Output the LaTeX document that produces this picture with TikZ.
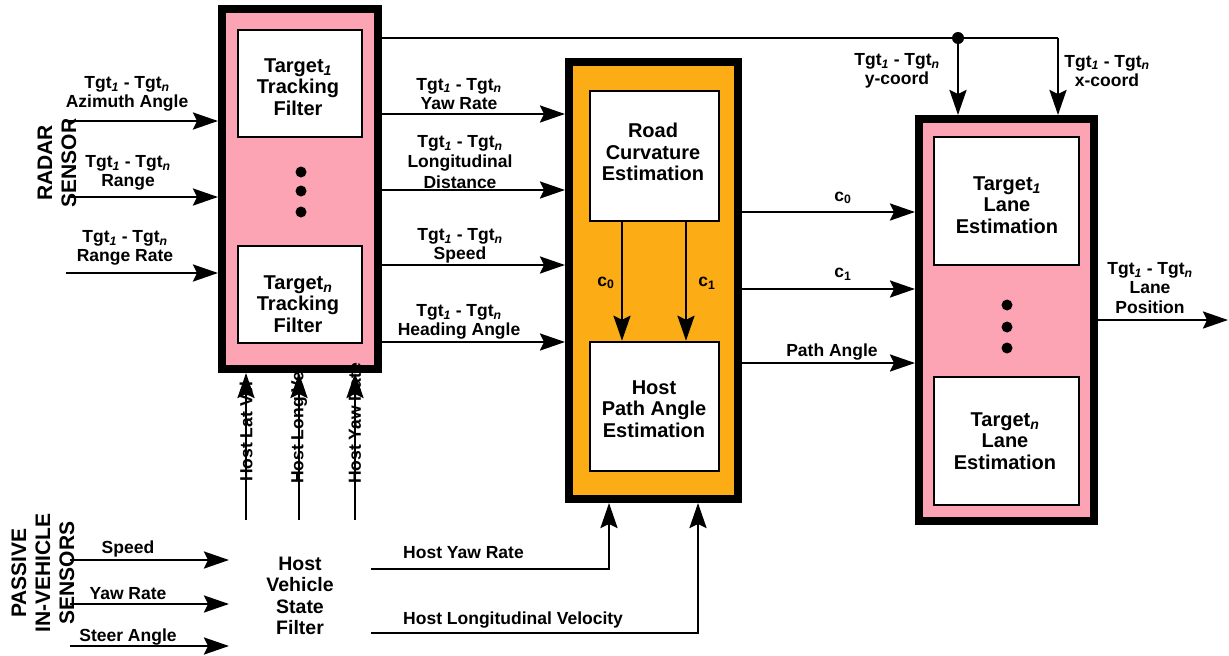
\documentclass[tikz,border=0pt]{standalone}
\usepackage{fontspec}
\setmainfont{Liberation Sans}
\usetikzlibrary{arrows.meta}
\definecolor{pinkf}{RGB}{252,163,180}
\definecolor{orangef}{RGB}{252,172,20}
\newcommand\isub[1]{\textsubscript{\itshape #1}}
\newcommand\tgtn{Tgt\isub{1} - Tgt\isub{n}}
\begin{document}
\begin{tikzpicture}[x=1pt,y=-1pt,
  arr/.style={line width=2.5pt,-{Stealth[length=25pt,width=17pt,inset=4pt]}},
  ln/.style={line width=2.5pt},
  outerbox/.style={draw=black,line width=8pt,inner sep=0pt},
  innerbox/.style={draw=black,fill=white,line width=2.5pt,inner sep=0pt},
  lbl/.style={font=\fontsize{17.5}{19.5}\selectfont\bfseries,align=center,inner sep=0pt},
  btxt/.style={font=\fontsize{20}{21.5}\selectfont\bfseries,align=center,inner sep=0pt},
  ttl/.style={font=\fontsize{21}{24}\selectfont\bfseries,align=center,rotate=90,inner sep=0pt},
  dotf/.style={fill=black}]
\useasboundingbox (0,0) rectangle (1229,656);

% outer boxes
\node[outerbox,fill=pinkf,minimum width=156pt,minimum height=360pt] (trk) at (300,189) {};
\node[outerbox,fill=orangef,minimum width=169pt,minimum height=437pt] (orng) at (653.5,280.5) {};
\node[outerbox,fill=pinkf,minimum width=175pt,minimum height=402pt] (lane) at (1006.5,320) {};

% inner boxes
\node[innerbox,minimum width=124pt,minimum height=107pt] (t1trk) at (300,83.5) {};
\node[innerbox,minimum width=124pt,minimum height=97pt] (tntrk) at (300,294.5) {};
\node[innerbox,minimum width=129pt,minimum height=130pt] (road) at (654.5,156) {};
\node[innerbox,minimum width=129pt,minimum height=129pt] (hpath) at (654.5,406.5) {};
\node[innerbox,minimum width=145pt,minimum height=128pt] (t1lane) at (1006.5,201) {};
\node[innerbox,minimum width=145pt,minimum height=128pt] (tnlane) at (1006.5,441) {};

% box texts
\node[btxt] (t1trkT) at (298,87) {Target\isub{1}\\Tracking\\Filter};
\node[btxt] (tntrkT) at (298,304) {Target\isub{n}\\Tracking\\Filter};
\node[btxt] (roadT) at (653,152) {Road\\Curvature\\Estimation};
\node[btxt] (hpathT) at (654,409) {Host\\Path Angle\\Estimation};
\node[btxt] (t1laneT) at (1007,205) {Target\isub{1}\\Lane\\Estimation};
\node[btxt] (tnlaneT) at (1005,441) {Target\isub{n}\\Lane\\Estimation};
\node[btxt,font=\fontsize{19.5}{21.5}\selectfont\bfseries] (hvsf) at (300,596) {Host\\Vehicle\\State\\Filter};

% dots
\foreach \yy in {172,191,212} \fill[dotf] (301,\yy) circle (5.5);
\foreach \yy in {305,327,348} \fill[dotf] (1007,\yy) circle (5.5);

% titles
\node[ttl] (radar) at (57,163) {RADAR\\SENSOR};
\node[ttl] (passive) at (43,573) {PASSIVE\\IN-VEHICLE\\SENSORS};

% radar inputs
\coordinate (az) at (66,121);
\coordinate (rg) at (70,197);
\coordinate (rr) at (66,273);
\draw[arr] (az) -- (az -| trk.west);
\draw[arr] (rg) -- (rg -| trk.west);
\draw[arr] (rr) -- (rr -| trk.west);
\node[lbl] (azL) at (127,94) {\tgtn\\Azimuth Angle};
\node[lbl] (rgL) at (128,173) {\tgtn\\Range};
\node[lbl] (rrL) at (125,248) {\tgtn\\Range Rate};

% tracking -> road outputs
\foreach \yy/\nm in {114/o1,190/o2,265/o3,342/o4}
  \coordinate (\nm) at (382,\yy);
\draw[arr] (o1 -| trk.east) -- (o1 -| orng.west);
\draw[arr] (o2 -| trk.east) -- (o2 -| orng.west);
\draw[arr] (o3 -| trk.east) -- (o3 -| orng.west);
\draw[arr] (o4 -| trk.east) -- (o4 -| orng.west);
\node[lbl] (yawL) at (459,94) {\tgtn\\Yaw Rate};
\node[lbl,font=\fontsize{17.5}{20.5}\selectfont\bfseries] (longL) at (460,162) {\tgtn\\Longitudinal\\Distance};
\node[lbl] (spdL) at (460,246) {\tgtn\\Speed};
\node[lbl] (hdgL) at (459,322) {\tgtn\\Heading Angle};

% top coordinates line
\coordinate (tl) at (382,38);
\coordinate (jn) at (958,38);
\coordinate (tr) at (1058,38);
\draw[ln] (tl -| trk.east) -- (tr);
\draw[arr] (tr) -- (tr |- lane.north);
\draw[arr] (jn) -- (jn |- lane.north);
\fill[dotf] (jn) circle (6);
\node[lbl] (yL) at (897,71) {\tgtn\\y-coord};
\node[lbl] (xL) at (1107,71) {\tgtn\\x-coord};

% inner c0 c1
\coordinate (ic0) at (622,0);
\coordinate (ic1) at (686,0);
\draw[arr] (ic0 |- road.south) -- (ic0 |- hpath.north);
\draw[arr] (ic1 |- road.south) -- (ic1 |- hpath.north);
\node[lbl] (ic0L) at (606,283) {c\textsubscript{0}};
\node[lbl] (ic1L) at (707,283) {c\textsubscript{1}};

% orange -> lane
\coordinate (r1) at (742,212);
\coordinate (r2) at (742,289);
\coordinate (r3) at (742,363);
\draw[arr] (r1 -| orng.east) -- (r1 -| lane.west);
\draw[arr] (r2 -| orng.east) -- (r2 -| lane.west);
\draw[arr] (r3 -| orng.east) -- (r3 -| lane.west);
\node[lbl] (r1L) at (843,198) {c\textsubscript{0}};
\node[lbl] (r2L) at (843,274) {c\textsubscript{1}};
\node[lbl] (r3L) at (832,352) {Path Angle};

% output
\coordinate (outp) at (1098,320);
\coordinate (oute) at (1228,320);
\draw[arr] (outp -| lane.east) -- (oute);
\node[lbl] (outL) at (1150,288) {Tgt\isub{1} - Tgt\isub{n}\\Lane\\Position};

% host inputs to tracking box
\coordinate (h1) at (246,520);
\coordinate (h2) at (299,520);
\coordinate (h3) at (355,520);
\draw[arr] (h1) -- (h1 |- trk.south);
\draw[arr] (h2) -- (h2 |- trk.south);
\draw[arr] (h3) -- (h3 |- trk.south);
\node[lbl,rotate=90,anchor=west] (h1L) at (246,482) {Host Lat Vel};
\node[lbl,rotate=90,anchor=west] (h2L) at (299,484) {Host Long Vel};
\node[lbl,rotate=90,anchor=west] (h3L) at (355,484) {Host Yaw Rate};

% passive inputs
\coordinate (p1) at (70,560);
\coordinate (p2) at (70,604);
\coordinate (p3) at (70,646);
\coordinate (pe) at (229,0);
\draw[arr] (p1) -- (p1 -| pe);
\draw[arr] (p2) -- (p2 -| pe);
\draw[arr] (p3) -- (p3 -| pe);
\node[lbl] (p1L) at (128,549) {Speed};
\node[lbl] (p2L) at (128,594) {Yaw Rate};
\node[lbl] (p3L) at (128,637) {Steer Angle};

% host filter outputs
\coordinate (hy) at (371,569);
\coordinate (hyc) at (609,569);
\coordinate (hv) at (371,633);
\coordinate (hvc) at (698,633);
\draw[arr] (hy) -- (hyc) -- (hyc |- orng.south);
\draw[arr] (hv) -- (hvc) -- (hvc |- orng.south);
\node[lbl,anchor=west] (hyL) at (403,553) {Host Yaw Rate};
\node[lbl,anchor=west] (hvL) at (403,620) {Host Longitudinal Velocity};
\end{tikzpicture}
\end{document}
